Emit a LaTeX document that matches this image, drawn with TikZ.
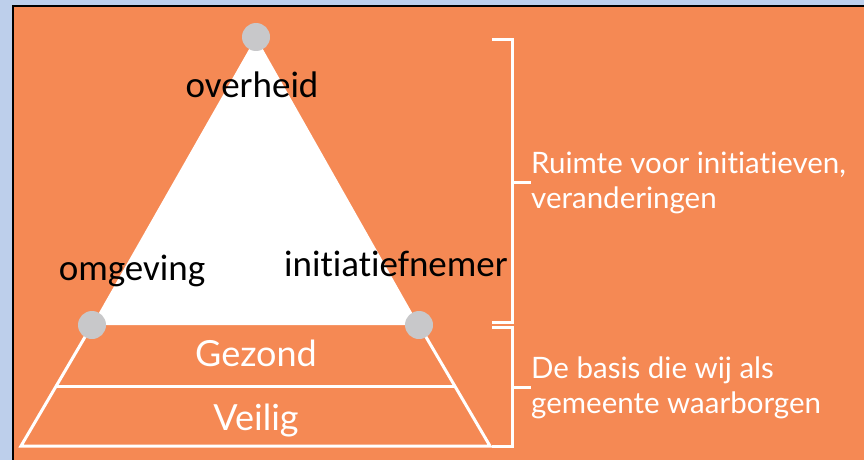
\documentclass[tikz,border=0pt]{standalone}
\usepackage{fontspec}
\setmainfont[Ligatures=NoCommon]{Lato}
\newfontfamily\labelfont[Ligatures=NoCommon]{Carlito}
\usetikzlibrary{calc}

\definecolor{oranje}{RGB}{245,137,84}
\definecolor{lichtblauw}{RGB}{189,207,235}
\definecolor{grijs}{RGB}{200,200,202}

\begin{document}
\begin{tikzpicture}[
    x=1pt, y=-1pt,
    dot/.style={circle, fill=grijs, minimum size=28pt, inner sep=0pt},
    wit/.style={draw=white, line width=3pt},
    laag/.style={text=white, font=\fontsize{36}{40}\selectfont, inner sep=0pt},
    uitleg/.style={text=white, font=\fontsize{29.5}{35}\selectfont, align=left, inner sep=0pt, anchor=base west},
    rol/.style={text=black, font=\labelfont\fontsize{37}{42}\selectfont, inner sep=0pt, anchor=base}
]
    \useasboundingbox (0,0) rectangle (864,460);
    \fill[lichtblauw] (0,0) rectangle (864,460);
    \fill[oranje] (13,6) rectangle (864,460);
    \draw[black, line width=2pt] (13,460) -- (13,6) -- (864,6);

    % driehoek
    \coordinate (top) at (256,37);
    \coordinate (links) at (92,325);
    \coordinate (rechts) at (419,325);
    \coordinate (lo) at (21,446);
    \coordinate (ro) at (490,446);
    \fill[white] (top) -- (links) -- (rechts) -- cycle;
    \draw[wit] (links) -- (lo) -- (ro) -- (rechts);
    \draw[wit] ($(links)!0.51!(lo)$) -- ($(rechts)!0.51!(ro)$);
    \node[dot] (n1) at (top) {};
    \node[dot] (n2) at (links) {};
    \node[dot] (n3) at (rechts) {};

    \node[laag, anchor=base] (gezond) at (256,366) {Gezond};
    \node[laag, anchor=base] (veilig) at (256,430) {Veilig};

    \node[rol] (overheid) at (252,97) {overheid};
    \node[rol] (omgeving) at (132,280) {omgeving};
    \node[rol] (initiatief) at (396,276) {initiatiefnemer};

    % haken
    \draw[wit] (492,40) -| (512,322) -- (492,322);
    \draw[wit] (492,327) -| (512,446) -- (492,446);
    \node[uitleg] (ruimte) at (531,208) {Ruimte voor initiatieven,\\veranderingen};
    \node[uitleg] (basis) at (531,413) {De basis die wij als\\gemeente waarborgen};
    \draw[wit] (512,182) -- (531,182);
    \draw[wit] (512,387) -- (531,387);
\end{tikzpicture}
\end{document}
